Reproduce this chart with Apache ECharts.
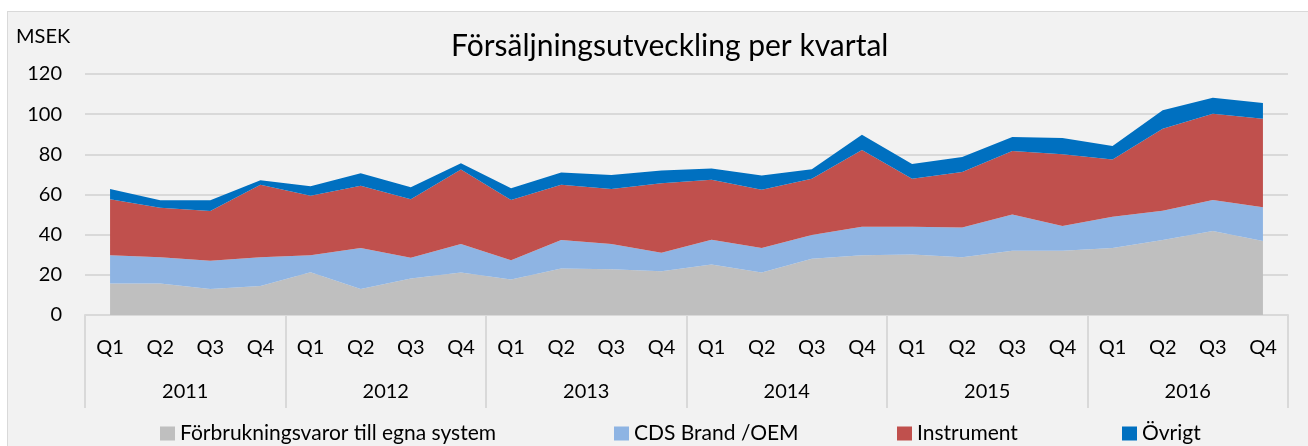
<!DOCTYPE html>
<html>
<head>
<meta charset="utf-8">
<script src="https://cdn.jsdelivr.net/npm/echarts@6/dist/echarts.min.js"></script>
<style>
  html, body { margin: 0; padding: 0; background: #fff; }
  #frame { position: absolute; left: 7px; top: 11px; width: 1320px; height: 460px;
           background: #F2F2F2; border: 1px solid #D9D9D9; }
  #main { position: absolute; left: 0; top: 0; width: 1308px; height: 446px; }
</style>
</head>
<body>
<div id="frame"></div>
<div id="main"></div>
<script>
var quarters = ['Q1', 'Q2', 'Q3', 'Q4'];
var years = ['2011', '2012', '2013', '2014', '2015', '2016'];
var categories = [];
years.forEach(function (y) {
    quarters.forEach(function (q) { categories.push(q); });
});

// MSEK per kvartal
var forbrukning = [15.7, 15.7, 13.0, 14.5, 21.3, 13.0, 18.2, 21.2, 17.7, 23.2, 22.8, 21.8,
                   25.2, 21.2, 28.0, 29.7, 30.1, 28.8, 32.0, 32.0, 33.3, 37.3, 41.8, 36.9];
var cdsBrand = [14.0, 13.0, 14.0, 14.2, 8.5, 20.3, 10.3, 14.1, 9.6, 14.1, 12.6, 9.2,
                12.3, 12.1, 11.8, 14.2, 13.8, 14.8, 18.1, 12.3, 15.6, 14.6, 15.5, 16.7];
var instrument = [27.9, 24.7, 24.8, 36.2, 29.6, 31.1, 29.1, 37.1, 30.0, 27.5, 27.4, 34.6,
                  29.9, 29.1, 28.0, 38.3, 24.0, 27.6, 31.6, 35.8, 28.5, 40.8, 42.9, 44.1];
var ovrigt = [5.2, 3.7, 5.3, 2.2, 4.7, 6.2, 6.0, 3.2, 5.8, 6.1, 6.9, 6.3,
              5.5, 7.0, 4.8, 7.5, 7.3, 7.5, 6.9, 8.0, 6.8, 9.2, 8.0, 7.8];

var names = ['Förbrukningsvaror till egna system', 'CDS Brand /OEM', 'Instrument', 'Övrigt'];
var colors = ['#BFBFBF', '#8EB4E3', '#C0504D', '#0070C0'];
var values = [forbrukning, cdsBrand, instrument, ovrigt];
var legendLeft = [155, 609, 892, 1117];

var font = 'Lato, sans-serif';
var myChart = echarts.init(document.getElementById('main'));

myChart.setOption({
    backgroundColor: 'transparent',
    title: {
        text: 'Försäljningsutveckling per kvartal',
        left: 446,
        top: 26,
        textStyle: { fontFamily: font, fontSize: 30, fontWeight: 'normal', color: '#000' }
    },
    graphic: [{
        type: 'text',
        left: 16,
        top: 27,
        style: { text: 'MSEK', font: '20px ' + font, fill: '#000' }
    }],
    legend: names.map(function (n, i) {
        return {
            data: [n],
            left: legendLeft[i],
            top: 418,
            icon: 'rect',
            itemWidth: 15,
            itemHeight: 14,
            itemGap: 4,
            textStyle: { fontFamily: font, fontSize: 21, color: '#000', padding: [0, 0, 0, 0] }
        };
    }),
    grid: { left: 85, right: 20, top: 74, bottom: 131, containLabel: false },
    xAxis: [{
        type: 'category',
        data: categories,
        boundaryGap: true,
        axisLine: { show: false },
        axisTick: { show: false },
        axisLabel: { fontFamily: font, fontSize: 20, color: '#000', margin: 23, interval: 0 }
    }, {
        type: 'category',
        data: years,
        position: 'bottom',
        boundaryGap: true,
        axisLine: { show: true, lineStyle: { color: '#D9D9D9', width: 2 } },
        axisTick: { show: true, length: 93, lineStyle: { color: '#D9D9D9', width: 2 } },
        axisLabel: { fontFamily: font, fontSize: 20, color: '#000', margin: 67 }
    }],
    yAxis: {
        type: 'value',
        min: 0,
        max: 120,
        interval: 20,
        axisLine: { show: false },
        axisTick: { show: false },
        splitLine: { lineStyle: { color: '#D9D9D9', width: 2 } },
        axisLabel: { fontFamily: font, fontSize: 20, color: '#000', margin: 23 }
    },
    series: values.map(function (v, i) {
        return {
            name: names[i],
            type: 'line',
            stack: 'total',
            data: v,
            symbol: 'none',
            silent: true,
            itemStyle: { color: colors[i] },
            lineStyle: { width: 0 },
            areaStyle: { color: colors[i], opacity: 1 },
            z: 2
        };
    })
});

window.addEventListener('resize', function () {
    myChart.resize();
});
</script>
</body>
</html>
